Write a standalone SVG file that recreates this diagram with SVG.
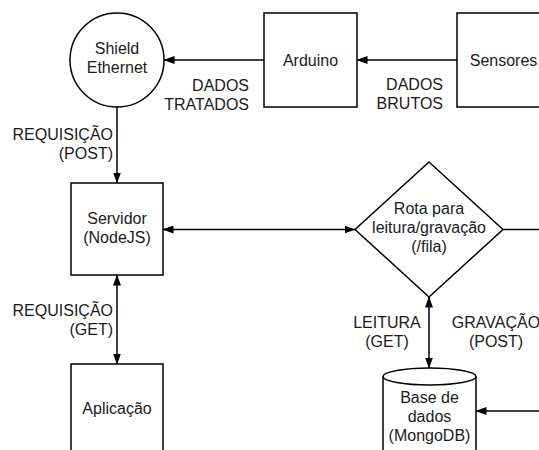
<svg xmlns="http://www.w3.org/2000/svg" width="539" height="450" viewBox="0 0 539 450">
  <style>
    .shape { fill: #ffffff; stroke: #000000; stroke-width: 1.5; }
    .edge { fill: none; stroke: #000000; stroke-width: 1.5; }
    text { font-family: "Liberation Sans", Arial, sans-serif; font-size: 16px; fill: #1a1a1a; }
    .c { text-anchor: middle; }
    .r { text-anchor: end; }
  </style>
  <defs>
    <marker id="arr" viewBox="0 0 11 8" refX="10.5" refY="4" markerWidth="11" markerHeight="8" markerUnits="userSpaceOnUse" orient="auto-start-reverse">
      <path d="M0,0 L11,4 L0,8 z" fill="#000000"/>
    </marker>
  </defs>
  <rect width="539" height="450" fill="#ffffff"/>

  <g id="connectors">
    <line class="edge" x1="457" y1="60" x2="357" y2="60" marker-end="url(#arr)"/>
    <line class="edge" x1="264" y1="60" x2="164" y2="60" marker-end="url(#arr)"/>
    <line class="edge" x1="117" y1="107" x2="117" y2="183" marker-end="url(#arr)"/>
    <line class="edge" x1="163" y1="229.5" x2="355" y2="229.5" marker-start="url(#arr)" marker-end="url(#arr)"/>
    <line class="edge" x1="503" y1="229.5" x2="540" y2="229.5"/>
    <line class="edge" x1="429" y1="297" x2="429" y2="368" marker-start="url(#arr)" marker-end="url(#arr)"/>
    <line class="edge" x1="540" y1="411" x2="476" y2="411" marker-end="url(#arr)"/>
    <line class="edge" x1="117" y1="275" x2="117" y2="364" marker-start="url(#arr)" marker-end="url(#arr)"/>
    <g id="edge-labels">
      <text class="r" x="249" y="91">DADOS</text>
      <text class="r" x="249" y="110">TRATADOS</text>
      <text class="r" x="443" y="90">DADOS</text>
      <text class="r" x="443" y="109">BRUTOS</text>
      <text class="r" x="113" y="140">REQUISIÇÃO</text>
      <text class="r" x="113" y="159">(POST)</text>
      <text class="r" x="113" y="316">REQUISIÇÃO</text>
      <text class="r" x="113" y="335">(GET)</text>
      <text class="c" x="387" y="328">LEITURA</text>
      <text class="c" x="387" y="347">(GET)</text>
      <text class="c" x="496" y="328">GRAVAÇÃO</text>
      <text class="c" x="496" y="347">(POST)</text>
    </g>
  </g>

  <g id="shield">
    <circle class="shape" cx="117" cy="60" r="47"/>
    <text class="c" x="117" y="54">Shield</text>
    <text class="c" x="117" y="73">Ethernet</text>
  </g>
  <g id="arduino">
    <rect class="shape" x="264" y="13" width="93" height="94"/>
    <text class="c" x="310.5" y="65.5">Arduino</text>
  </g>
  <g id="sensores">
    <rect class="shape" x="457" y="13" width="93" height="94"/>
    <text class="c" x="503.5" y="65.5">Sensores</text>
  </g>
  <g id="servidor">
    <rect class="shape" x="71" y="183" width="92" height="92"/>
    <text class="c" x="117" y="224">Servidor</text>
    <text class="c" x="117" y="243">(NodeJS)</text>
  </g>
  <g id="rota">
    <polygon class="shape" points="429,162 503,229.5 429,297 355,229.5"/>
    <text class="c" x="429" y="214">Rota para</text>
    <text class="c" x="429" y="233">leitura/gravação</text>
    <text class="c" x="429" y="252">(/fila)</text>
  </g>
  <g id="base-dados">
    <path class="shape" d="M383,376.5 L383,460 L476,460 L476,376.5 A46.5,8.5 0 0 0 383,376.5 Z"/>
    <path class="edge" d="M383,376.5 A46.5,8.5 0 0 0 476,376.5"/>
    <text class="c" x="429.5" y="403">Base de</text>
    <text class="c" x="429.5" y="422">dados</text>
    <text class="c" x="429.5" y="441">(MongoDB)</text>
  </g>
  <g id="aplicacao">
    <rect class="shape" x="71" y="364" width="92" height="92"/>
    <text class="c" x="117" y="414">Aplicação</text>
  </g>
</svg>
